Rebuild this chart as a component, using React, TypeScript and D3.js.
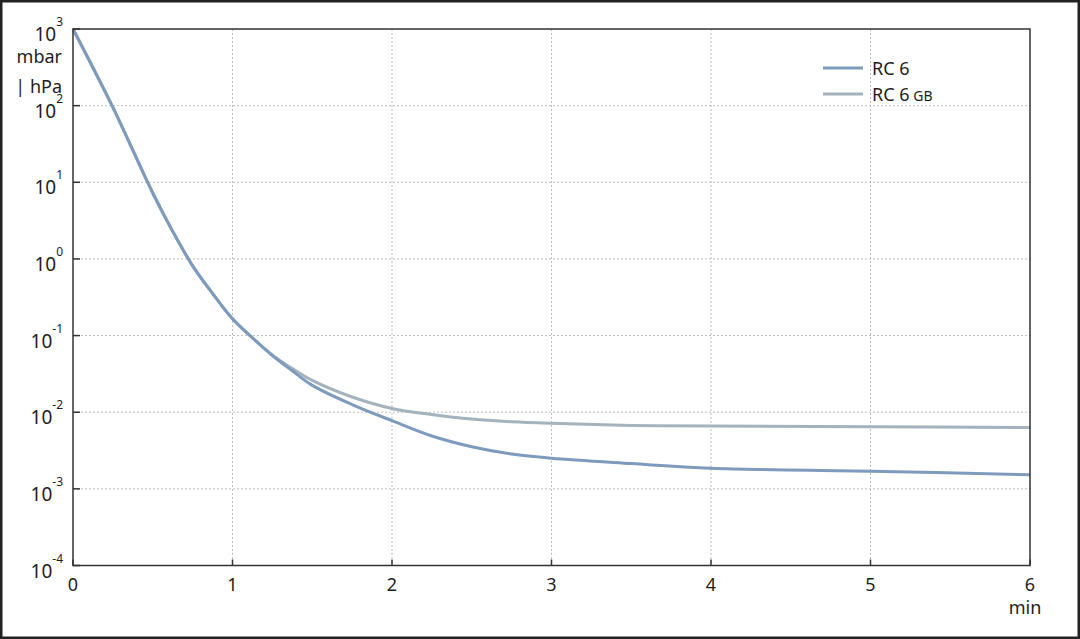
import { useEffect, useRef } from "react";
import * as d3 from "d3";

const WIDTH = 1080;
const HEIGHT = 639;
const MARGIN = { top: 29, right: 50, bottom: 73.5, left: 73 };

// time in minutes
const TIME = [
  0, 0.25, 0.5, 0.625, 0.75, 0.875, 1, 1.125, 1.25, 1.375, 1.5, 1.75, 2, 2.25, 2.5,
  2.75, 3, 3.5, 4, 5, 6,
];

// pressure in mbar
const RC6 = [
  1000, 95, 7.24, 2.29, 0.813, 0.355, 0.166, 0.0933, 0.055, 0.0347, 0.0224, 0.0126,
  0.00776, 0.0049, 0.00355, 0.00285, 0.00251, 0.00214, 0.00186, 0.0017, 0.00153,
];
const RC6_GB = [
  1000, 95, 7.24, 2.29, 0.813, 0.355, 0.166, 0.0933, 0.0555, 0.0372, 0.026, 0.0158,
  0.0112, 0.00933, 0.00813, 0.0075, 0.00716, 0.00673, 0.00661, 0.00646, 0.00631,
];

const SERIES = [
  { name: "RC 6", sub: "", values: RC6, color: "#7e9bbe" },
  { name: "RC 6", sub: "GB", values: RC6_GB, color: "#a4b3bd" },
];

const X_TICKS = [0, 1, 2, 3, 4, 5, 6];
const Y_EXPONENTS = [3, 2, 1, 0, -1, -2, -3, -4];
const Y_UNIT = ["mbar", "| hPa"];
const X_UNIT = "min";

const FONT = "'Noto Sans', 'Open Sans', sans-serif";

export default function App() {
  const svgRef = useRef<SVGSVGElement | null>(null);

  useEffect(() => {
    const svg = svgRef.current;
    if (!svg) return;
    svg.innerHTML = "";

    const x0 = MARGIN.left;
    const x1 = WIDTH - MARGIN.right;
    const y0 = MARGIN.top;
    const y1 = HEIGHT - MARGIN.bottom;

    const x = d3.scaleLinear().domain([0, 6]).range([x0, x1]);
    const y = d3.scaleLog().domain([1e-4, 1e3]).range([y1, y0]);

    const root = d3.select(svg).attr("width", WIDTH).attr("height", HEIGHT);

    root.append("rect")
      .attr("x", 1.25).attr("y", 1.25)
      .attr("width", WIDTH - 2.5).attr("height", HEIGHT - 2.5)
      .attr("fill", "#fff")
      .attr("stroke", "#222")
      .attr("stroke-width", 2.5);

    // Grid
    const grid = root.append("g")
      .attr("stroke", "#bdbdbd")
      .attr("stroke-width", 1)
      .attr("stroke-dasharray", "2,2");

    X_TICKS.slice(1, -1).forEach((t) => {
      grid.append("line")
        .attr("x1", x(t)).attr("x2", x(t))
        .attr("y1", y0).attr("y2", y1);
    });
    Y_EXPONENTS.slice(1, -1).forEach((e) => {
      grid.append("line")
        .attr("x1", x0).attr("x2", x1)
        .attr("y1", y(Math.pow(10, e))).attr("y2", y(Math.pow(10, e)));
    });

    // Curves
    const line = d3.line<[number, number]>()
      .x((d) => x(d[0]))
      .y((d) => y(d[1]))
      .curve(d3.curveCatmullRom.alpha(0.5));

    // draw GB first so RC 6 sits on top
    [...SERIES].reverse().forEach((s) => {
      root.append("path")
        .attr("d", line(TIME.map((t, i) => [t, s.values[i]] as [number, number])))
        .attr("fill", "none")
        .attr("stroke", s.color)
        .attr("stroke-width", 3)
        .attr("stroke-linejoin", "round");
    });

    // Frame & ticks
    const axis = root.append("g").attr("stroke", "#333").attr("stroke-width", 1.5);
    axis.append("rect")
      .attr("x", x0).attr("y", y0)
      .attr("width", x1 - x0).attr("height", y1 - y0)
      .attr("fill", "none");
    X_TICKS.forEach((t) => {
      axis.append("line")
        .attr("x1", x(t)).attr("x2", x(t))
        .attr("y1", y1).attr("y2", y1 - 6);
    });
    Y_EXPONENTS.forEach((e) => {
      axis.append("line")
        .attr("x1", x0).attr("x2", x0 + 7)
        .attr("y1", y(Math.pow(10, e))).attr("y2", y(Math.pow(10, e)));
    });

    // Tick labels
    const labels = root.append("g")
      .attr("font-family", FONT)
      .attr("fill", "#1e1e1e");

    X_TICKS.forEach((t) => {
      labels.append("text")
        .attr("x", x(t)).attr("y", y1 + 25)
        .attr("text-anchor", "middle")
        .attr("font-size", 18)
        .text(String(t));
    });
    labels.append("text")
      .attr("x", x1 - 5).attr("y", y1 + 48)
      .attr("text-anchor", "middle")
      .attr("font-size", 18)
      .text(X_UNIT);

    Y_EXPONENTS.forEach((e) => {
      const yy = y(Math.pow(10, e));
      const t = labels.append("text")
        .attr("x", x0 - 10).attr("y", yy + 12)
        .attr("text-anchor", "end")
        .attr("font-size", 19);
      t.append("tspan").text("10");
      t.append("tspan")
        .attr("dy", -15)
        .attr("font-size", 12)
        .text(String(e));
    });

    Y_UNIT.forEach((u, i) => {
      labels.append("text")
        .attr("x", 62).attr("y", 63 + i * 30)
        .attr("text-anchor", "end")
        .attr("font-size", 18)
        .text(u);
    });

    // Legend
    const legend = root.append("g").attr("font-family", FONT);
    SERIES.forEach((s, i) => {
      const ly = 68 + i * 26;
      legend.append("line")
        .attr("x1", 823).attr("x2", 863)
        .attr("y1", ly).attr("y2", ly)
        .attr("stroke", s.color)
        .attr("stroke-width", 3);
      const t = legend.append("text")
        .attr("x", 872).attr("y", ly + 7)
        .attr("font-size", 18)
        .attr("fill", "#1e1e1e");
      t.append("tspan").text(s.name);
      if (s.sub) {
        t.append("tspan").attr("font-size", 14).text(" " + s.sub);
      }
    });
  }, []);

  return (
    <div style={{ position: "absolute", left: 0, top: 0 }}>
      <svg ref={svgRef} style={{ display: "block" }} />
    </div>
  );
}
